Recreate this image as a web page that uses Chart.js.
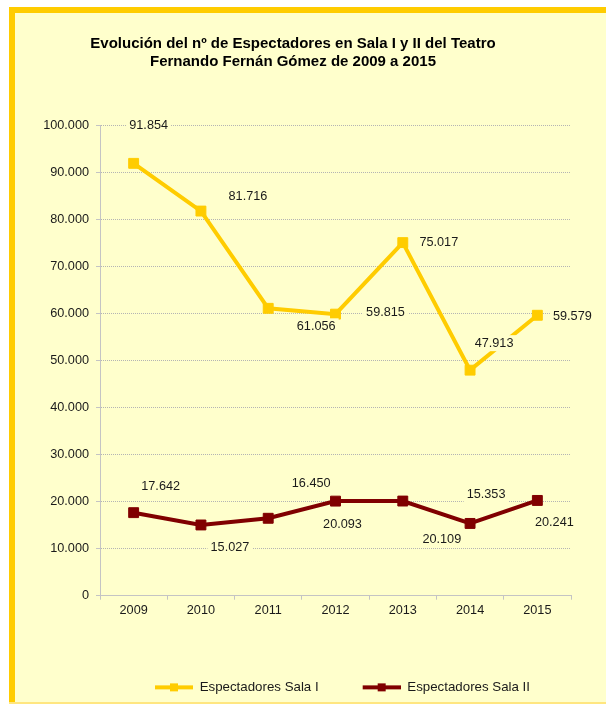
<!DOCTYPE html>
<html>
<head>
<meta charset="utf-8">
<script src="https://cdn.jsdelivr.net/npm/chart.js@4.4.0/dist/chart.umd.min.js"></script>
<style>
  html, body { margin: 0; padding: 0; background: #fff; overflow: hidden; }
  #wrap { width: 606px; height: 704px; position: relative; overflow: hidden; }
  #espectadoresChart { display: block; }
</style>
</head>
<body>
<div id="wrap"><canvas id="espectadoresChart" width="606" height="704"></canvas></div>
<script>
const years = ['2009', '2010', '2011', '2012', '2013', '2014', '2015'];
const salaI = [91854, 81716, 61056, 59815, 75017, 47913, 59579];
const salaII = [17642, 15027, 16450, 20093, 20109, 15353, 20241];
const yTicks = [0, 10000, 20000, 30000, 40000, 50000, 60000, 70000, 80000, 90000, 100000];

// where each value label sits relative to its point (dx, dy)
const salaIOffsets = [[15, -38], [47, -15], [48, 18], [50, -2], [36, 0], [24, -27], [35, 1]];
const salaIIOffsets = [[27, -26], [29, 23], [43, -35], [7, 23], [39, 38], [16, -29], [17, 22]];

const YELLOW = '#FFCC00';
const MAROON = '#800000';
const PANEL = '#FFFFCC';
const TXT = '#1a1a1a';
const AXIS = '#c4c4c4';

const fmt = v => String(v).replace(/\B(?=(\d{3})+(?!\d))/g, '.');

// legend swatch: line with a square marker, 14px blank lead-in for spacing
const legendIcon = (color) => {
  const c = document.createElement('canvas');
  c.width = 52; c.height = 10;
  const ctx = c.getContext('2d');
  ctx.fillStyle = color;
  ctx.fillRect(14, 3, 38, 4);
  ctx.fillRect(29, 1, 8, 8);
  return c;
};

const panelPlugin = {
  id: 'panel',
  beforeDraw(chart) {
    const ctx = chart.ctx;
    ctx.save();
    ctx.fillStyle = '#fff';
    ctx.fillRect(0, 0, chart.width, chart.height);
    ctx.fillStyle = PANEL;
    ctx.fillRect(9, 7, chart.width - 9, 695);
    ctx.fillStyle = YELLOW;
    ctx.fillRect(9, 7, 6, 695);
    ctx.fillRect(9, 7, chart.width - 9, 6);
    ctx.fillStyle = '#FFE680';
    ctx.fillRect(9, 702, chart.width - 9, 2);
    ctx.restore();
  }
};

const valueLabels = {
  id: 'valueLabels',
  afterDatasetsDraw(chart) {
    const ctx = chart.ctx;
    const offsets = [salaIOffsets, salaIIOffsets];
    ctx.save();
    ctx.font = '12.7px "Liberation Sans", Arial, sans-serif';
    ctx.textAlign = 'center';
    ctx.textBaseline = 'middle';
    chart.data.datasets.forEach((ds, di) => {
      chart.getDatasetMeta(di).data.forEach((pt, i) => {
        const txt = fmt(ds.data[i]);
        const x = pt.x + offsets[di][i][0];
        const y = pt.y + offsets[di][i][1];
        const w = ctx.measureText(txt).width + 6;
        ctx.fillStyle = PANEL;
        ctx.fillRect(x - w / 2, y - 8, w, 16);
        ctx.fillStyle = TXT;
        ctx.fillText(txt, x, y);
      });
    });
    ctx.restore();
  }
};

new Chart(document.getElementById('espectadoresChart'), {
  type: 'line',
  data: {
    labels: years,
    datasets: [
      {
        label: 'Espectadores Sala I',
        data: salaI,
        borderColor: YELLOW,
        backgroundColor: YELLOW,
        borderWidth: 4,
        pointStyle: 'rect',
        pointRadius: 7,
        pointBorderWidth: 1,
        tension: 0,
      },
      {
        label: 'Espectadores Sala II',
        data: salaII,
        borderColor: MAROON,
        backgroundColor: MAROON,
        borderWidth: 4,
        pointStyle: 'rect',
        pointRadius: 7,
        pointBorderWidth: 1,
        tension: 0,
      },
    ]
  },
  options: {
    responsive: false,
    animation: false,
    devicePixelRatio: 1,
    layout: {
      padding: { left: 15, right: 35, top: 0, bottom: 0 }
    },
    scales: {
      x: {
        offset: true,
        afterFit: s => { s.height = 55; },
        grid: {
          drawOnChartArea: false,
          tickLength: 4,
          tickColor: AXIS,
          offset: true,
        },
        border: { color: AXIS },
        ticks: {
          color: TXT,
          padding: 3,
          font: { family: '"Liberation Sans", Arial, sans-serif', size: 12.7 }
        }
      },
      y: {
        min: 0,
        max: 100000,
        afterFit: s => { s.width = 85; },
        afterBuildTicks: s => { s.ticks = yTicks.map(v => ({ value: v })); },
        grid: {
          color: '#b4b4b4',
          tickLength: 4,
          tickColor: AXIS,
        },
        border: { color: AXIS, dash: [1, 1] },
        ticks: {
          color: TXT,
          padding: 7,
          callback: v => fmt(v),
          font: { family: '"Liberation Sans", Arial, sans-serif', size: 12.7 }
        }
      }
    },
    plugins: {
      title: {
        display: true,
        text: ['Evolución del nº de Espectadores en Sala I y II del Teatro',
               'Fernando Fernán Gómez de 2009 a 2015'],
        color: '#000',
        font: { family: '"Liberation Sans", Arial, sans-serif', size: 15, weight: 'bold', lineHeight: 1.2 },
        padding: { top: 35, bottom: 54 }
      },
      legend: {
        position: 'bottom',
        fullSize: false,
        labels: {
          usePointStyle: true,
          pointStyleWidth: 52,
          padding: 30,
          color: TXT,
          font: { family: '"Liberation Sans", Arial, sans-serif', size: 13.3 },
          generateLabels: chart => chart.data.datasets.map((ds, i) => ({
            text: ds.label,
            pointStyle: legendIcon(ds.borderColor),
            fillStyle: ds.borderColor,
            strokeStyle: ds.borderColor,
            lineWidth: 0,
            fontColor: TXT,
            hidden: false,
            datasetIndex: i,
          }))
        }
      },
      tooltip: { enabled: false }
    }
  },
  plugins: [panelPlugin, valueLabels]
});
</script>
</body>
</html>
